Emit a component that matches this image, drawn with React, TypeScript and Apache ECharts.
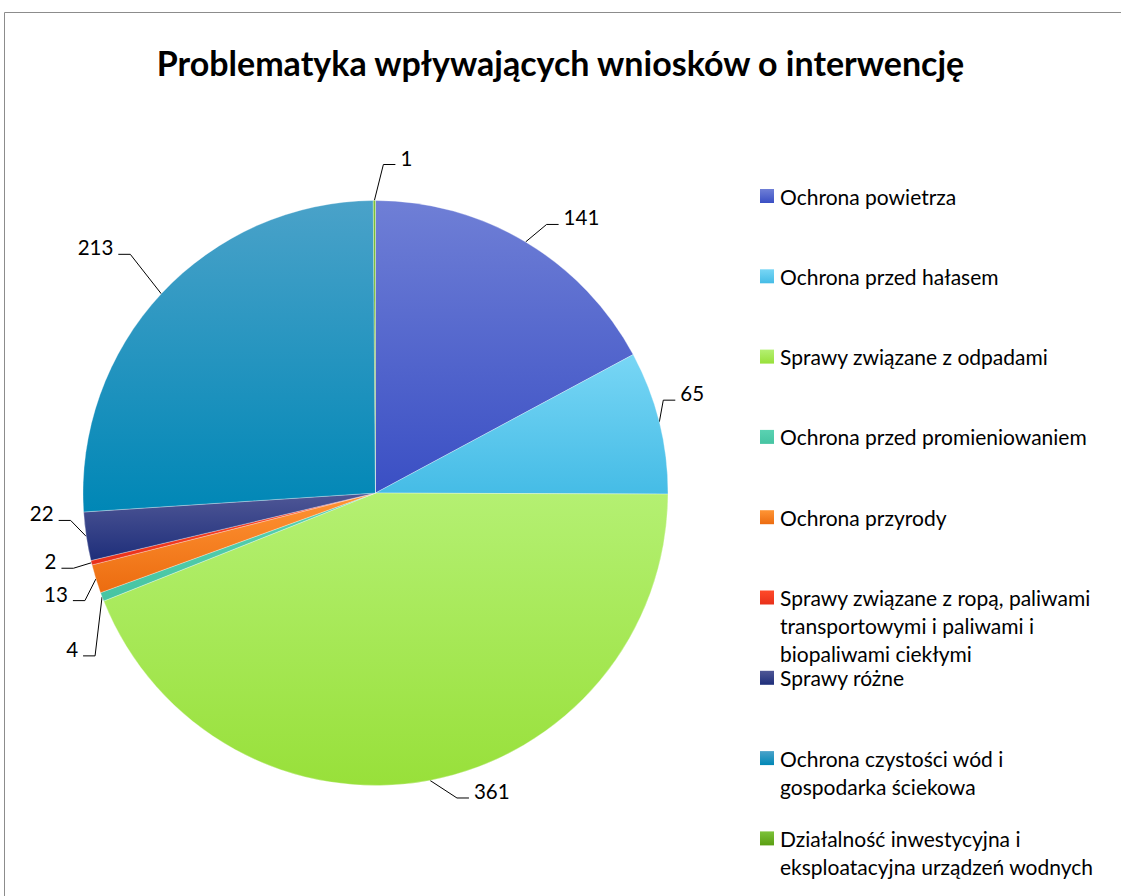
import React, { useEffect, useRef } from "react";
import * as echarts from "echarts";

const chartTitle = "Problematyka wpływających wniosków o interwencję";

const categories = [
  "Ochrona powietrza",
  "Ochrona przed hałasem",
  "Sprawy związane z odpadami",
  "Ochrona przed promieniowaniem",
  "Ochrona przyrody",
  "Sprawy związane z ropą, paliwami transportowymi i paliwami i biopaliwami ciekłymi",
  "Sprawy różne",
  "Ochrona czystości wód i gospodarka ściekowa",
  "Działalność inwestycyjna i eksploatacyjna urządzeń wodnych",
];

const legendLabels = [
  ["Ochrona powietrza"],
  ["Ochrona przed hałasem"],
  ["Sprawy związane z odpadami"],
  ["Ochrona przed promieniowaniem"],
  ["Ochrona przyrody"],
  ["Sprawy związane z ropą, paliwami", "transportowymi i paliwami i", "biopaliwami ciekłymi"],
  ["Sprawy różne"],
  ["Ochrona czystości wód i", "gospodarka ściekowa"],
  ["Działalność inwestycyjna i", "eksploatacyjna urządzeń wodnych"],
];

const values = [141, 65, 361, 4, 13, 2, 22, 213, 1];

const topColors = ["#6f7fd6", "#78d6f5", "#b4f072", "#5ad2b2", "#ff9535", "#ff4a2a", "#4f5796", "#4aa2c9", "#7cc23a"];
const bottomColors = ["#3a4fc4", "#45bce6", "#98e03a", "#46c4a2", "#ec6c10", "#e8301a", "#1e2e7a", "#0087b6", "#5a9e12"];

// leader-line elbow offsets (from slice edge) and label side, per slice
const labelElbow = [
  [21, -17.5],
  [4, -22],
  [27, 17.6],
  [-7, 59],
  [-11, 21.7],
  [-18, 5.5],
  [-15.6, -16],
  [-31, -39.5],
  [9, -36],
];
const labelSide = [1, 1, 1, -1, -1, -1, -1, -1, 1];

const FONT = "Lato, 'Open Sans', sans-serif";
const CX = 375.5;
const CY = 493;
const R = 292.5;

function grad(i: number) {
  return new echarts.graphic.LinearGradient(0, 0, 0, 1, [
    { offset: 0, color: topColors[i] },
    { offset: 1, color: bottomColors[i] },
  ]);
}

export default function App() {
  const ref = useRef<HTMLDivElement>(null);
  useEffect(() => {
    document.body.style.margin = "0";
    const chart = echarts.init(ref.current!, null, { renderer: "svg" });

    const total = values.reduce((a, b) => a + b, 0);
    const midAngles: number[] = [];
    let acc = 0;
    values.forEach((v) => {
      midAngles.push(((acc + v / 2) / total) * Math.PI * 2);
      acc += v;
    });

    const legendTop = 196;
    const legendStep = 80.3;
    const lineH = 28;
    const legendGraphics: any[] = [];
    legendLabels.forEach((lines, i) => {
      const y = legendTop + legendStep * i;
      legendGraphics.push({
        type: "rect",
        shape: { x: 760, y: y - 7, width: 14, height: 14 },
        style: { fill: grad(i) },
      });
      lines.forEach((ln, j) => {
        legendGraphics.push({
          type: "text",
          x: 780,
          y: y + j * lineH,
          style: {
            text: ln,
            fontSize: 21,
            fontFamily: FONT,
            fill: "#000",
            verticalAlign: "middle",
            textAlign: "left",
          },
        });
      });
    });

    chart.setOption({
      animation: false,
      title: {
        text: chartTitle,
        left: "center",
        top: 40,
        textStyle: { fontSize: 34, fontWeight: "bold", fontFamily: FONT, color: "#000" },
      },
      graphic: [
        {
          type: "rect",
          shape: { x: 4.5, y: 12.5, width: 1200, height: 1000 },
          style: { fill: "none", stroke: "#8c8c8c", lineWidth: 1 },
          silent: true,
        },
        ...legendGraphics,
      ],
      series: [
        {
          type: "pie",
          center: [CX, CY],
          radius: R,
          startAngle: 90,
          clockwise: true,
          data: values.map((v, i) => ({
            name: categories[i],
            value: v,
            itemStyle: { color: grad(i) },
          })),
          itemStyle: { borderWidth: 0.6, borderColor: "rgba(255,255,255,0.5)" },
          label: {
            show: true,
            formatter: "{c}",
            fontSize: 20.5,
            fontFamily: FONT,
            color: "#000",
          },
          labelLine: {
            show: true,
            length: 20,
            length2: 12,
            lineStyle: { color: "#000", width: 1 },
          },
          labelLayout: (p: any) => {
            const i = p.dataIndex;
            const a = midAngles[i];
            const e = [CX + R * Math.sin(a), CY - R * Math.cos(a)];
            const el = [e[0] + labelElbow[i][0], e[1] + labelElbow[i][1]];
            const s = labelSide[i];
            const end = [el[0] + s * 12, el[1]];
            return {
              x: end[0] + s * 5,
              y: el[1] - 7,
              align: s > 0 ? "left" : "right",
              verticalAlign: "middle",
              labelLinePoints: [e, el, end],
            };
          },
        },
      ],
    });
    return () => chart.dispose();
  }, []);
  return <div ref={ref} style={{ width: 1121, height: 896 }} />;
}
